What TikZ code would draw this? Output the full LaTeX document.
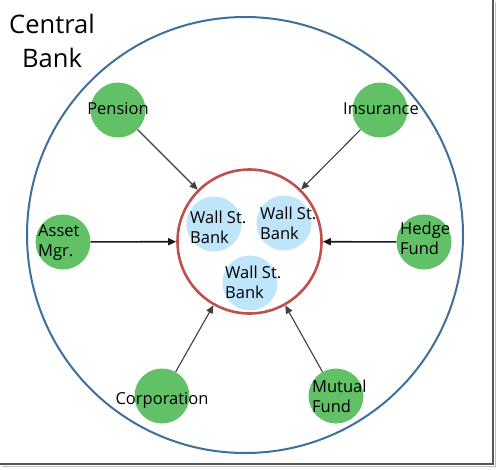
\documentclass[tikz,border=0pt]{standalone}
\usepackage{fontspec}
\setmainfont{Open Sans}
\usetikzlibrary{arrows.meta}
\definecolor{cbblue}{HTML}{3F6F9C}
\definecolor{wsred}{HTML}{C0504D}
\definecolor{agreen}{HTML}{62C066}
\definecolor{wsblue}{HTML}{BEE5F9}
\definecolor{framegray}{HTML}{555555}
\begin{document}
\begin{tikzpicture}[x=1pt,y=-1pt,
  agent/.style={circle,fill=agreen,draw=none,minimum size=55pt,inner sep=0pt},
  wsbank/.style={circle,fill=wsblue,draw=none,minimum size=55pt,inner sep=0pt},
  lbl/.style={font=\fontsize{16.5}{20}\selectfont,inner sep=0pt,align=left,text=black},
  flow/.style={draw=black!75,line width=1.1pt,-{Triangle[length=8pt,width=7pt]}},
  hflow/.style={draw=black!90,line width=1.6pt,-{Triangle[length=8pt,width=7pt]}}]
\useasboundingbox (0,0) rectangle (497,469);
\fill[white] (0,0) rectangle (497,469);
% frame shadow
\draw[framegray,line width=1.6pt] (493,0) -- (493,464) -- (0,464);
\draw[black!25,line width=1pt] (495,2) -- (495,466) -- (2,466);
% central bank
\node[circle,draw=cbblue,line width=2pt,minimum size=436pt,inner sep=0pt] (cb) at (245,235) {};
\node[font=\fontsize{25.5}{34}\selectfont,align=left,anchor=north west,inner sep=0pt] (cbl) at (9,14) {Central\\\hspace{13pt}Bank};
% wall street ring
\node[circle,draw=wsred,line width=2.6pt,minimum size=144pt,inner sep=0pt] (ws) at (249.5,241.5) {};
\node[wsbank] (w1) at (214,224) {};
\node[wsbank] (w2) at (284,223) {};
\node[wsbank] (w3) at (250,283) {};
\node[lbl,anchor=base west] (w1t) at (190,243) {Wall St.\\Bank};
\node[lbl,anchor=base west] (w2t) at (260,239) {Wall St.\\Bank};
\node[lbl,anchor=base west] (w3t) at (225,298) {Wall St.\\Bank};
% agents
\node[agent] (pen) at (118,110) {};
\node[agent] (ins) at (380,110) {};
\node[agent] (am) at (63,242) {};
\node[agent] (hf) at (424,242) {};
\node[agent] (cor) at (162,396) {};
\node[agent] (mf) at (336,396) {};
\node[lbl,anchor=base] (pent) at (118,114) {Pension};
\node[lbl,anchor=base] (inst) at (381,114) {Insurance};
\node[lbl,anchor=base west] (amt) at (38,256) {Asset\\Mgr.};
\node[lbl,anchor=base west] (hft) at (400,254) {Hedge\\Fund};
\node[lbl,anchor=base] (cort) at (162,404) {Corporation};
\node[lbl,anchor=base west] (mft) at (312,412) {Mutual\\Fund};
% arrows
\draw[flow] (pen) -- (ws);
\draw[flow] (ins) -- (ws);
\draw[hflow] (am) -- (ws);
\draw[hflow] (hf) -- (ws);
\draw[flow] (cor) -- (ws);
\draw[flow] (mf) -- (ws);
\end{tikzpicture}
\end{document}
